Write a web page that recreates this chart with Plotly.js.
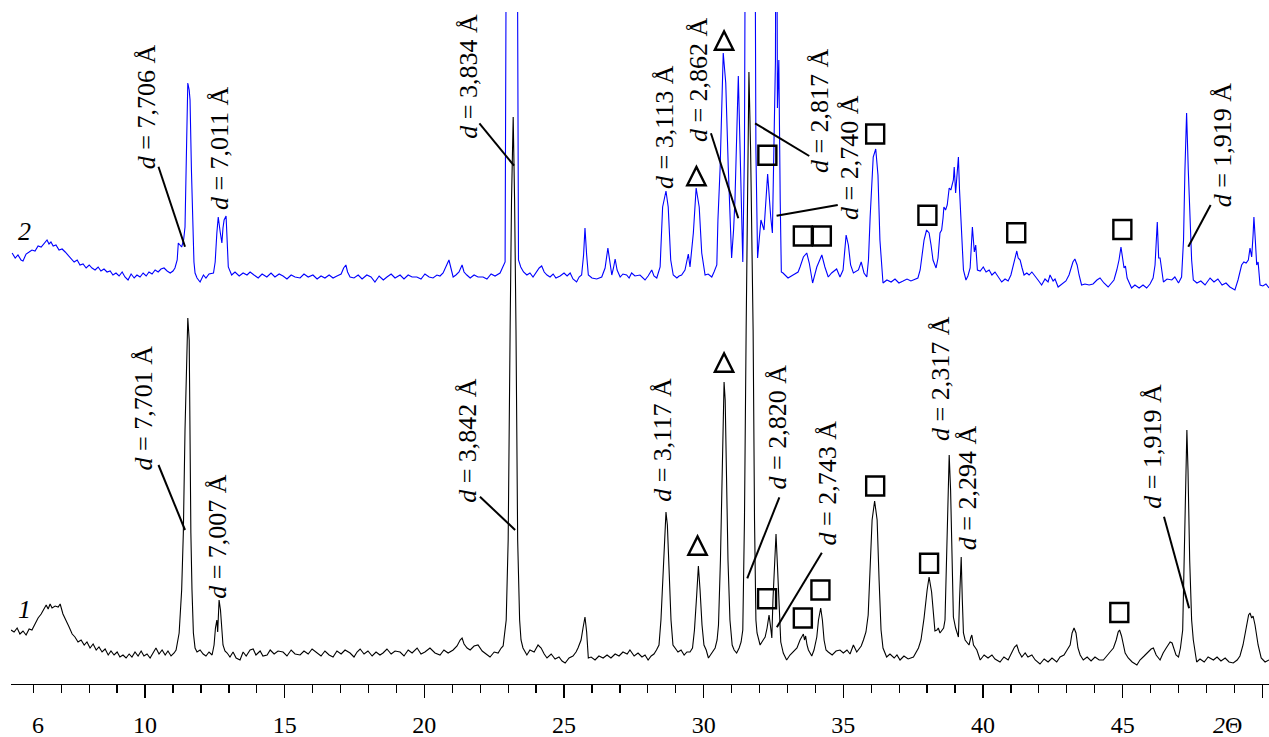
<!DOCTYPE html>
<html>
<head>
<meta charset="utf-8">
<script src="https://cdn.plot.ly/plotly-3.0.1.min.js"></script>
<style>html,body{margin:0;padding:0;background:#fff;}#chart{width:1269px;height:737px;}</style>
</head>
<body>
<div id="chart"></div>
<script>
// Pattern 1 (black, lower): [2θ, intensity]
const pattern1 = [[5.20,54],[5.31,52],[5.42,56],[5.52,50],[5.63,53],[5.74,49],[5.85,55],[5.95,54],[6.06,60],[6.17,66],[6.28,70],[6.38,75],[6.46,79],[6.53,75],[6.60,80],[6.67,76],[6.78,78],[6.89,77],[6.96,80],[7.06,70],[7.17,64],[7.28,57],[7.39,50],[7.49,47],[7.60,42],[7.71,44],[7.82,39],[7.92,42],[8.03,36],[8.14,40],[8.25,34],[8.35,37],[8.46,32],[8.57,35],[8.68,29],[8.78,33],[8.89,29],[9.00,32],[9.10,27],[9.21,29],[9.32,26],[9.43,30],[9.53,27],[9.64,32],[9.75,28],[9.86,33],[9.96,28],[10.07,30],[10.18,26],[10.29,32],[10.39,36],[10.50,30],[10.61,34],[10.72,29],[10.82,33],[10.93,28],[11.04,31],[11.11,34],[11.22,51],[11.31,94],[11.37,151],[11.43,254],[11.49,344],[11.53,366],[11.58,344],[11.60,254],[11.64,151],[11.68,94],[11.73,51],[11.79,36],[11.86,32],[11.97,34],[12.08,30],[12.18,28],[12.29,32],[12.40,29],[12.47,39],[12.52,56],[12.57,64],[12.60,52],[12.65,84],[12.70,74],[12.74,54],[12.79,39],[12.86,33],[12.94,31],[13.04,27],[13.15,32],[13.26,26],[13.40,24],[13.51,32],[13.62,28],[13.76,34],[13.87,35],[13.97,29],[14.12,33],[14.22,28],[14.37,29],[14.48,34],[14.62,30],[14.76,33],[14.94,32],[15.08,28],[15.23,34],[15.37,30],[15.55,29],[15.69,33],[15.84,30],[15.98,35],[16.16,31],[16.30,28],[16.44,33],[16.59,29],[16.73,27],[16.87,33],[17.02,30],[17.16,34],[17.34,31],[17.48,27],[17.59,32],[17.70,35],[17.84,30],[17.98,33],[18.13,28],[18.27,32],[18.41,29],[18.52,31],[18.66,35],[18.81,30],[18.95,33],[19.13,32],[19.27,28],[19.42,34],[19.56,31],[19.74,36],[19.88,30],[20.02,32],[20.20,36],[20.38,31],[20.56,29],[20.70,34],[20.85,31],[21.03,34],[21.17,38],[21.28,44],[21.35,46],[21.42,40],[21.53,36],[21.64,34],[21.78,38],[21.92,39],[22.07,33],[22.21,30],[22.35,27],[22.50,32],[22.64,31],[22.75,36],[22.82,38],[22.93,64],[23.00,144],[23.07,354],[23.12,484],[23.18,567],[23.23,484],[23.28,354],[23.34,144],[23.41,64],[23.46,44],[23.53,36],[23.67,29],[23.78,34],[23.93,32],[24.07,39],[24.18,36],[24.29,30],[24.39,26],[24.54,30],[24.68,25],[24.82,27],[24.93,23],[25.04,21],[25.18,26],[25.32,28],[25.43,32],[25.50,36],[25.61,44],[25.68,56],[25.75,67],[25.81,52],[25.87,26],[25.97,27],[26.11,24],[26.25,28],[26.40,26],[26.54,29],[26.68,26],[26.83,30],[26.97,28],[27.11,32],[27.26,30],[27.36,34],[27.51,28],[27.65,31],[27.79,27],[27.90,29],[28.01,24],[28.12,28],[28.22,30],[28.31,34],[28.40,39],[28.47,64],[28.55,114],[28.61,159],[28.65,172],[28.70,159],[28.76,114],[28.83,64],[28.90,39],[28.98,36],[29.08,32],[29.19,34],[29.30,29],[29.40,32],[29.51,32],[29.60,36],[29.67,54],[29.75,89],[29.81,118],[29.87,94],[29.94,59],[30.01,39],[30.09,34],[30.17,26],[30.26,30],[30.34,33],[30.41,36],[30.48,44],[30.53,59],[30.60,124],[30.66,204],[30.70,284],[30.73,302],[30.77,284],[30.82,204],[30.87,124],[30.94,64],[31.02,39],[31.09,34],[31.18,31],[31.27,36],[31.34,42],[31.40,54],[31.46,164],[31.52,354],[31.59,534],[31.62,612],[31.68,534],[31.77,354],[31.82,164],[31.87,64],[31.91,51],[32.02,39],[32.13,44],[32.20,47],[32.27,56],[32.34,69],[32.40,56],[32.44,46],[32.48,84],[32.54,121],[32.59,150],[32.64,119],[32.68,87],[32.76,42],[32.85,31],[32.97,24],[33.09,29],[33.21,32],[33.34,36],[33.45,44],[33.51,47],[33.57,50],[33.61,44],[33.65,48],[33.70,39],[33.75,34],[33.87,28],[33.95,34],[34.05,47],[34.11,64],[34.19,76],[34.25,64],[34.31,44],[34.38,34],[34.46,32],[34.60,29],[34.74,33],[34.88,34],[35.00,31],[35.13,34],[35.24,30],[35.36,39],[35.48,32],[35.54,34],[35.64,38],[35.72,44],[35.81,52],[35.89,69],[35.96,114],[36.03,164],[36.12,183],[36.21,164],[36.28,104],[36.35,54],[36.42,36],[36.55,27],[36.67,30],[36.82,26],[36.92,29],[37.03,24],[37.17,28],[37.32,25],[37.51,27],[37.60,32],[37.69,36],[37.78,44],[37.89,66],[38.00,94],[38.07,107],[38.16,92],[38.23,64],[38.28,53],[38.35,54],[38.40,56],[38.46,51],[38.52,53],[38.59,56],[38.64,64],[38.70,144],[38.75,209],[38.79,229],[38.84,194],[38.89,114],[38.94,67],[39.02,56],[39.07,50],[39.12,47],[39.16,84],[39.22,127],[39.26,84],[39.30,51],[39.36,44],[39.43,42],[39.50,39],[39.56,46],[39.60,49],[39.66,39],[39.78,34],[39.90,24],[40.04,29],[40.18,26],[40.32,29],[40.43,25],[40.61,22],[40.75,27],[40.90,24],[41.04,32],[41.13,37],[41.21,39],[41.29,32],[41.39,27],[41.51,31],[41.61,27],[41.75,29],[41.87,24],[42.04,20],[42.19,25],[42.33,22],[42.47,26],[42.64,22],[42.76,27],[42.90,29],[43.01,34],[43.12,39],[43.19,51],[43.26,56],[43.33,51],[43.40,36],[43.48,29],[43.59,24],[43.73,27],[43.87,23],[44.01,27],[44.16,24],[44.31,24],[44.44,29],[44.55,32],[44.67,36],[44.77,44],[44.84,52],[44.89,54],[44.96,48],[45.02,39],[45.09,31],[45.20,26],[45.34,22],[45.51,19],[45.62,24],[45.77,28],[45.91,32],[46.02,35],[46.10,36],[46.20,29],[46.34,24],[46.45,31],[46.56,36],[46.63,39],[46.70,42],[46.77,41],[46.84,34],[46.91,29],[47.00,27],[47.07,36],[47.15,54],[47.20,124],[47.25,214],[47.30,254],[47.34,214],[47.40,124],[47.47,64],[47.53,44],[47.65,22],[47.77,25],[47.92,22],[48.06,27],[48.25,24],[48.38,27],[48.52,23],[48.67,26],[48.81,22],[48.96,21],[49.10,24],[49.20,28],[49.31,39],[49.42,54],[49.51,69],[49.56,71],[49.62,66],[49.67,68],[49.74,59],[49.85,39],[49.96,26],[50.10,22],[50.24,24]];

// Pattern 2 (blue, upper): [2θ, intensity]; drawn shifted up by offset2
const pattern2 = [[5.24,51],[5.35,46],[5.45,49],[5.56,44],[5.63,43],[5.74,50],[5.85,52],[5.95,54],[6.06,53],[6.17,58],[6.28,57],[6.35,59],[6.42,62],[6.49,64],[6.56,60],[6.63,62],[6.71,58],[6.81,59],[6.92,54],[7.03,55],[7.14,52],[7.24,49],[7.35,46],[7.46,42],[7.57,44],[7.67,39],[7.78,40],[7.89,36],[8.00,39],[8.10,36],[8.21,34],[8.32,37],[8.42,33],[8.53,35],[8.64,32],[8.75,33],[8.85,29],[8.96,31],[9.07,28],[9.18,32],[9.28,27],[9.39,24],[9.50,30],[9.61,26],[9.71,29],[9.82,27],[9.93,31],[10.04,28],[10.14,32],[10.25,30],[10.36,34],[10.47,32],[10.57,35],[10.68,36],[10.79,33],[10.90,31],[11.00,33],[11.07,36],[11.15,44],[11.19,61],[11.25,59],[11.31,57],[11.38,64],[11.43,77],[11.49,164],[11.53,221],[11.58,214],[11.61,204],[11.66,134],[11.71,71],[11.75,42],[11.79,31],[11.86,26],[11.97,22],[12.09,29],[12.18,26],[12.29,30],[12.45,31],[12.51,42],[12.57,71],[12.62,87],[12.69,72],[12.75,61],[12.79,76],[12.83,84],[12.90,88],[12.94,64],[12.98,37],[13.10,29],[13.22,32],[13.37,28],[13.51,31],[13.65,29],[13.76,32],[13.90,29],[14.05,26],[14.19,30],[14.36,27],[14.51,31],[14.65,27],[14.80,30],[14.94,28],[15.08,25],[15.23,29],[15.37,27],[15.55,26],[15.69,30],[15.84,27],[16.01,29],[16.16,25],[16.30,28],[16.44,26],[16.59,29],[16.73,26],[16.87,28],[17.02,30],[17.11,36],[17.19,39],[17.25,32],[17.34,27],[17.48,26],[17.63,29],[17.77,25],[17.94,29],[18.09,27],[18.23,22],[18.38,28],[18.53,24],[18.66,27],[18.81,30],[18.95,26],[19.13,29],[19.27,25],[19.42,29],[19.56,27],[19.73,27],[19.88,25],[20.02,30],[20.17,27],[20.31,26],[20.45,29],[20.56,28],[20.67,31],[20.78,38],[20.88,44],[20.95,36],[21.03,27],[21.13,29],[21.24,32],[21.35,39],[21.42,32],[21.52,29],[21.64,26],[21.78,29],[21.92,27],[22.10,27],[22.24,25],[22.39,30],[22.53,28],[22.71,31],[22.82,37],[22.89,42],[22.96,604],[23.13,1804],[23.30,604],[23.34,154],[23.37,44],[23.45,37],[23.55,32],[23.67,29],[23.78,31],[23.89,27],[24.02,32],[24.11,36],[24.20,38],[24.29,32],[24.39,29],[24.50,27],[24.61,30],[24.71,26],[24.86,28],[25.00,31],[25.11,28],[25.22,31],[25.32,25],[25.45,22],[25.54,27],[25.63,29],[25.70,49],[25.75,76],[25.81,49],[25.87,29],[26.00,26],[26.17,25],[26.35,27],[26.47,36],[26.57,56],[26.63,42],[26.71,29],[26.77,36],[26.83,45],[26.90,34],[27.01,27],[27.11,30],[27.24,29],[27.33,26],[27.42,31],[27.54,28],[27.72,29],[27.90,24],[28.01,28],[28.14,34],[28.22,28],[28.32,26],[28.44,37],[28.53,97],[28.65,113],[28.73,97],[28.82,44],[28.91,29],[29.04,26],[29.12,28],[29.21,29],[29.33,34],[29.45,50],[29.51,37],[29.63,71],[29.73,116],[29.84,97],[29.93,51],[30.05,29],[30.16,30],[30.29,27],[30.37,32],[30.47,39],[30.51,84],[30.59,137],[30.70,251],[30.79,221],[30.88,137],[30.95,74],[31.00,46],[31.07,74],[31.12,104],[31.24,228],[31.33,104],[31.40,42],[31.46,154],[31.53,604],[31.67,1804],[31.81,604],[31.87,154],[31.93,46],[32.05,84],[32.16,74],[32.29,130],[32.40,87],[32.46,71],[32.57,244],[32.60,604],[32.64,196],[32.69,244],[32.74,104],[32.78,32],[32.84,31],[33.02,26],[33.20,29],[33.38,32],[33.45,37],[33.57,47],[33.69,51],[33.78,41],[33.90,21],[34.05,37],[34.23,49],[34.34,37],[34.46,27],[34.58,31],[34.76,35],[34.88,27],[34.99,34],[35.10,69],[35.18,59],[35.26,39],[35.36,31],[35.54,34],[35.64,42],[35.74,31],[35.84,27],[35.90,44],[35.96,87],[36.07,147],[36.16,155],[36.24,129],[36.31,64],[36.37,34],[36.42,21],[36.56,24],[36.71,22],[36.85,25],[36.99,21],[37.14,23],[37.28,25],[37.42,23],[37.57,25],[37.67,26],[37.75,34],[37.81,47],[37.89,64],[37.98,74],[38.07,71],[38.14,59],[38.21,44],[38.32,36],[38.39,46],[38.46,71],[38.52,74],[38.57,86],[38.60,97],[38.66,94],[38.72,99],[38.79,116],[38.85,114],[38.94,124],[38.97,137],[39.02,111],[39.07,134],[39.12,147],[39.16,114],[39.22,81],[39.25,54],[39.30,34],[39.39,24],[39.46,28],[39.54,36],[39.62,77],[39.69,52],[39.74,59],[39.80,34],[39.90,33],[40.01,37],[40.11,32],[40.22,34],[40.32,29],[40.43,32],[40.54,27],[40.67,22],[40.79,25],[40.90,23],[41.00,29],[41.11,42],[41.21,53],[41.26,46],[41.33,44],[41.40,36],[41.47,29],[41.57,31],[41.65,29],[41.75,32],[41.87,28],[41.97,24],[42.10,19],[42.22,25],[42.33,22],[42.40,29],[42.51,23],[42.58,25],[42.69,17],[42.83,20],[42.97,23],[43.08,29],[43.15,36],[43.22,42],[43.29,45],[43.37,39],[43.44,29],[43.53,19],[43.65,20],[43.80,19],[43.94,20],[44.08,24],[44.19,26],[44.33,21],[44.48,17],[44.58,20],[44.69,24],[44.79,34],[44.87,44],[44.94,57],[45.00,42],[45.05,36],[45.10,38],[45.16,26],[45.32,16],[45.44,19],[45.59,16],[45.73,19],[45.86,16],[45.98,20],[46.09,26],[46.16,39],[46.24,82],[46.29,46],[46.34,46],[46.39,36],[46.46,22],[46.59,25],[46.76,24],[46.87,27],[47.00,21],[47.11,27],[47.18,64],[47.23,134],[47.29,191],[47.35,134],[47.41,77],[47.47,44],[47.53,24],[47.66,21],[47.80,23],[47.95,19],[48.13,26],[48.27,22],[48.41,25],[48.56,19],[48.70,21],[48.84,17],[49.02,14],[49.13,24],[49.26,39],[49.34,42],[49.42,41],[49.50,44],[49.56,56],[49.62,47],[49.67,69],[49.70,87],[49.75,64],[49.80,39],[49.85,42],[49.92,19],[50.02,18],[50.13,20],[50.24,16]];
const offset2 = 380;

// axis ticks
const tickValues = [10, 15, 20, 25, 30, 35, 40, 45, 50];
const tickLabels = ['10', '15', '20', '25', '30', '35', '40', '45', ''];

// d-spacing labels (2θ position, level on the shared scale)
const dText  = ['7,706','7,011','3,834','3,113','2,862','2,817','2,740','1,919','7,701','7,007','3,842','3,117','2,820','2,743','2,317','2,294','1,919'];
const dTheta = [10.04,12.65,21.55,28.58,29.80,34.13,35.20,48.57,9.94,12.57,21.52,28.50,32.64,34.43,38.46,39.45,46.04];
const dLevel = [577,536,608,557,604,573,527,539,276,148,244,244,257,201,306,196.5,238];

// leader lines [θ0, level0, θ1, level1]
const leaders = [[10.48,517.3,11.43,437.3],[21.97,560.7,23.21,518.3],[30.26,550.7,31.24,465.7],[31.84,560.7,33.78,528],[32.61,468.3,34.80,479],[48.15,479,47.35,437.3],[10.48,219,11.43,154],[21.99,187.3,23.25,154],[32.71,186.7,31.56,105.7],[34.23,131.3,32.62,56.7],[46.48,167.3,47.38,75.7]];

// phase markers
const squareTheta = [32.28,33.55,34.23,36.14,38.01,41.19,44.99,32.27,33.55,34.18,36.14,38.07,44.88];
const squareLevel = [528.7,448,448,550,468.7,451.2,454.5,85.2,66,94,198,120.7,71.5];
const triangleTheta = [29.74,30.73,29.78,30.73];
const triangleLevel = [507.5,643,138,321];

// curve numbers
const curveNames = ['1', '2'];
const curveNameTheta = [5.70, 5.70];
const curveNameLevel = [75, 453];

const serif = "'Liberation Serif', 'Times New Roman', serif";

const traces = [
  {x: pattern1.map(p => p[0]), y: pattern1.map(p => p[1]), type: 'scatter', mode: 'lines',
   line: {color: '#000000', width: 1.1}, hoverinfo: 'skip'},
  {x: pattern2.map(p => p[0]), y: pattern2.map(p => p[1] + offset2), type: 'scatter', mode: 'lines',
   line: {color: '#0000ff', width: 1.1}, hoverinfo: 'skip'}
];

const annotations = [];
dText.forEach((t, i) => {
  annotations.push({x: dTheta[i], y: dLevel[i], xref: 'x', yref: 'y', text: '<i>d</i> = ' + t + ' Å',
    showarrow: false, textangle: -90, xanchor: 'center', yanchor: 'middle',
    font: {family: serif, size: 26, color: '#000'}});
});
curveNames.forEach((t, i) => {
  annotations.push({x: curveNameTheta[i], y: curveNameLevel[i], xref: 'x', yref: 'y', text: '<i>' + t + '</i>',
    showarrow: false, xanchor: 'center', yanchor: 'middle', font: {family: serif, size: 26, color: '#000'}});
});
annotations.push({x: 6.15, y: -0.061, xref: 'x', yref: 'paper', text: '6', showarrow: false,
  xanchor: 'center', yanchor: 'middle', font: {family: serif, size: 24, color: '#000'}});
annotations.push({x: 48.77, y: -0.061, xref: 'x', yref: 'paper', text: '<i>2</i>Θ', showarrow: false,
  xanchor: 'center', yanchor: 'middle', font: {family: serif, size: 24, color: '#000'}});

const shapes = [];
leaders.forEach(l => {
  shapes.push({type: 'line', xref: 'x', yref: 'y', x0: l[0], y0: l[1], x1: l[2], y1: l[3],
    line: {color: '#000', width: 2}});
});
squareTheta.forEach((t, i) => {
  shapes.push({type: 'rect', xref: 'x', yref: 'y', xsizemode: 'pixel', ysizemode: 'pixel',
    xanchor: t, yanchor: squareLevel[i], x0: -9, x1: 9, y0: -9.5, y1: 9.5,
    line: {color: '#000', width: 2.4}, fillcolor: 'rgba(0,0,0,0)'});
});
triangleTheta.forEach((t, i) => {
  shapes.push({type: 'path', xref: 'x', yref: 'y', xsizemode: 'pixel', ysizemode: 'pixel',
    xanchor: t, yanchor: triangleLevel[i], path: 'M -9.2 -8.8 L 9.2 -8.8 L 0 9.6 Z',
    line: {color: '#000', width: 2.4}, fillcolor: 'rgba(0,0,0,0)'});
});

const layout = {
  width: 1269, height: 737,
  margin: {l: 11, r: 0, t: 12, b: 53, pad: 0},
  paper_bgcolor: '#fff', plot_bgcolor: '#fff',
  font: {family: serif, color: '#000'},
  showlegend: false,
  xaxis: {
    range: [5.2, 50.24], showgrid: false, zeroline: false,
    showline: true, linecolor: '#000', linewidth: 1.3,
    ticks: 'outside', ticklen: 13, tickwidth: 1.3, tickcolor: '#000',
    tickmode: 'array', tickvals: tickValues, ticktext: tickLabels,
    tickfont: {family: serif, size: 24, color: '#000'},
    ticklabelstandoff: 6,
    minor: {dtick: 1, tick0: 0, ticks: 'outside', ticklen: 8, tickwidth: 1.3, tickcolor: '#000', showgrid: false}
  },
  yaxis: {range: [0, 672], visible: false, fixedrange: true},
  annotations: annotations,
  shapes: shapes
};

Plotly.newPlot('chart', traces, layout, {displayModeBar: false, staticPlot: true});
</script>
</body>
</html>
